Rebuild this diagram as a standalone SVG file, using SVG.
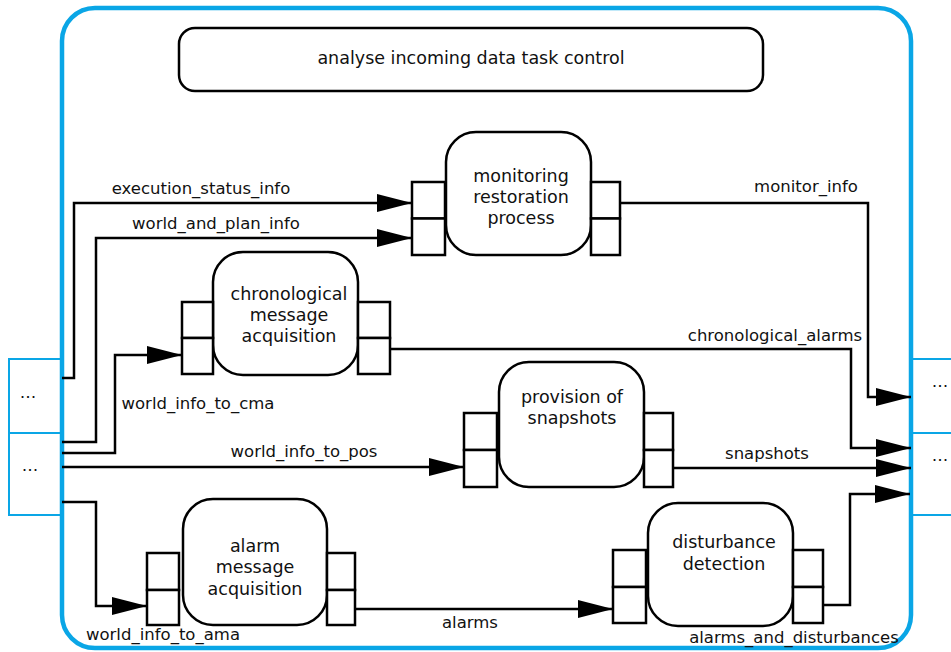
<svg xmlns="http://www.w3.org/2000/svg" width="951" height="652" viewBox="0 0 951 652">
<defs>
<style>
.box{fill:#fff;stroke:#000;stroke-width:2.5}
.port{fill:#fff;stroke:#000;stroke-width:2.5}
.ext{fill:#fff;stroke:#0aa6e6;stroke-width:2}
.wire{fill:none;stroke:#000;stroke-width:2.5}
.nt{font-family:"DejaVu Sans",sans-serif;font-size:17.5px;text-anchor:middle;fill:#111}
.et{font-family:"DejaVu Sans",sans-serif;font-size:16.5px;text-anchor:middle;fill:#111}
</style>
<marker id="arr" markerUnits="userSpaceOnUse" markerWidth="36" markerHeight="18" refX="35" refY="9" orient="auto">
<path d="M0,0 L35,9 L0,18 z" fill="#000"/>
</marker>
</defs>
<rect width="951" height="652" fill="#fff"/>
<g id="ext-ports">
<rect class="ext" x="9" y="359" width="52" height="74"/>
<rect class="ext" x="9" y="433" width="52" height="82"/>
<rect class="ext" x="911" y="359" width="60" height="74"/>
<rect class="ext" x="911" y="433" width="60" height="82"/>
<text class="et" x="28" y="398">…</text>
<text class="et" x="30" y="471">…</text>
<text class="et" x="940" y="387">…</text>
<text class="et" x="940" y="461">…</text>
</g>
<g id="container">
<rect x="62" y="8" width="849" height="640" rx="33" fill="none" stroke="#0aa6e6" stroke-width="4.5"/>
</g>
<g id="title">
<rect class="box" x="179" y="28" width="584" height="63" rx="16"/>
<text class="nt" x="471" y="64">analyse incoming data task control</text>
</g>
<g id="connectors">
<path class="wire" d="M62,378 H74 V203 H412" marker-end="url(#arr)"/>
<path class="wire" d="M62,442 H96 V238 H412" marker-end="url(#arr)"/>
<path class="wire" d="M62,453 H115 V355 H182" marker-end="url(#arr)"/>
<path class="wire" d="M62,467 H464" marker-end="url(#arr)"/>
<path class="wire" d="M62,502 H96 V606 H147" marker-end="url(#arr)"/>
<path class="wire" d="M620,203 H868 V397 H911" marker-end="url(#arr)"/>
<path class="wire" d="M390,349 H851 V448 H911" marker-end="url(#arr)"/>
<path class="wire" d="M673,468 H911" marker-end="url(#arr)"/>
<path class="wire" d="M355,609 H613" marker-end="url(#arr)"/>
<path class="wire" d="M823,605 H850 V494 H910" marker-end="url(#arr)"/>
<text class="et" x="201" y="194">execution_status_info</text>
<text class="et" x="216" y="229">world_and_plan_info</text>
<text class="et" x="806" y="192">monitor_info</text>
<text class="et" x="775" y="341">chronological_alarms</text>
<text class="et" x="198" y="409">world_info_to_cma</text>
<text class="et" x="304" y="457">world_info_to_pos</text>
<text class="et" x="767" y="459">snapshots</text>
<text class="et" x="163" y="640">world_info_to_ama</text>
<text class="et" x="470" y="628">alarms</text>
<text class="et" x="794" y="643">alarms_and_disturbances</text>
</g>
<g id="monitoring">
<rect class="box" x="446" y="132" width="145" height="123" rx="30"/>
<rect class="port" x="412" y="182" width="33" height="36.5"/>
<rect class="port" x="412" y="218.5" width="33" height="36.5"/>
<rect class="port" x="591" y="182" width="29" height="36.5"/>
<rect class="port" x="591" y="218.5" width="29" height="36.5"/>
<text class="nt" x="521" y="182">monitoring</text>
<text class="nt" x="521" y="203">restoration</text>
<text class="nt" x="521" y="224">process</text>
</g>
<g id="chronological">
<rect class="box" x="213" y="252" width="145" height="123" rx="30"/>
<rect class="port" x="182" y="302" width="31" height="36"/>
<rect class="port" x="182" y="338" width="31" height="36"/>
<rect class="port" x="358" y="302" width="32" height="36"/>
<rect class="port" x="358" y="338" width="32" height="36"/>
<text class="nt" x="289" y="300">chronological</text>
<text class="nt" x="289" y="321">message</text>
<text class="nt" x="289" y="342">acquisition</text>
</g>
<g id="snapshots">
<rect class="box" x="499" y="362" width="145" height="125" rx="30"/>
<rect class="port" x="464" y="413" width="33" height="37"/>
<rect class="port" x="464" y="450" width="33" height="37"/>
<rect class="port" x="644" y="413" width="29" height="37"/>
<rect class="port" x="644" y="450" width="29" height="37"/>
<text class="nt" x="572" y="403">provision of</text>
<text class="nt" x="572" y="424">snapshots</text>
</g>
<g id="alarm">
<rect class="box" x="183" y="499" width="144" height="126" rx="30"/>
<rect class="port" x="147" y="553" width="32" height="37"/>
<rect class="port" x="147" y="590" width="32" height="35"/>
<rect class="port" x="327" y="553" width="28" height="37"/>
<rect class="port" x="327" y="590" width="28" height="35"/>
<text class="nt" x="255" y="552">alarm</text>
<text class="nt" x="255" y="573">message</text>
<text class="nt" x="255" y="595">acquisition</text>
</g>
<g id="disturbance">
<rect class="box" x="648" y="503" width="145" height="123" rx="30"/>
<rect class="port" x="613" y="550" width="33" height="37"/>
<rect class="port" x="613" y="587" width="33" height="36"/>
<rect class="port" x="793" y="550" width="30" height="37"/>
<rect class="port" x="793" y="587" width="30" height="36"/>
<text class="nt" x="724" y="548">disturbance</text>
<text class="nt" x="724" y="570">detection</text>
</g>
</svg>
